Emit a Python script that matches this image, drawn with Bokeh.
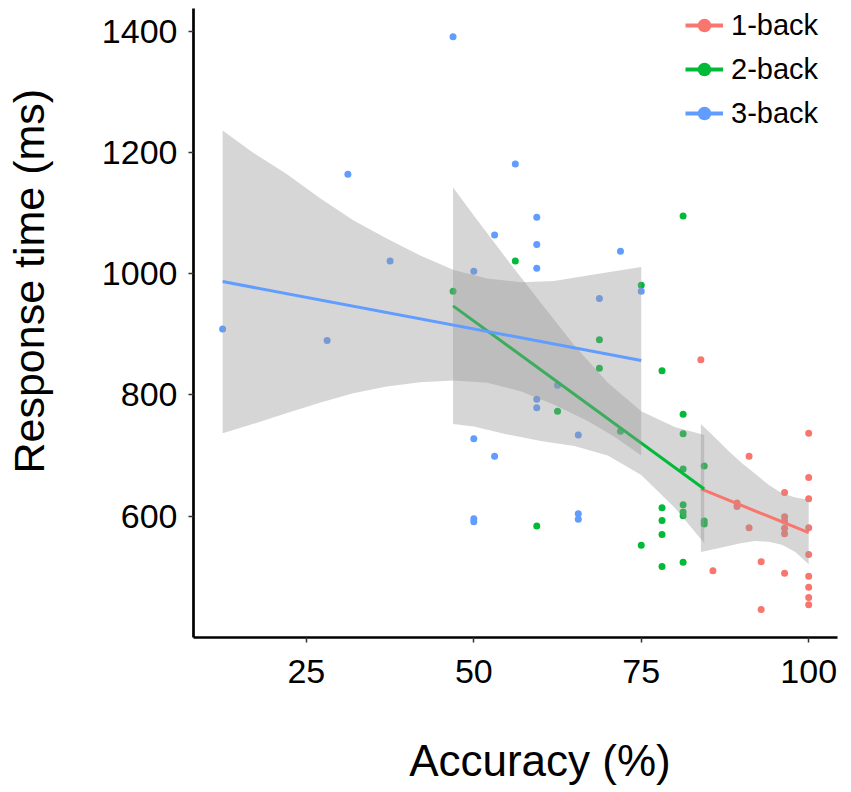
from bokeh.plotting import figure
from bokeh.models import Range1d, FixedTicker, Legend, LegendItem, ColumnDataSource
from bokeh.embed import file_html
from bokeh.resources import INLINE

# ---------------- data ----------------
groups = ["1-back", "2-back", "3-back"]
colors = ["#F8766D", "#00BA38", "#619CFF"]

x_1back = [83.9, 85.7, 89.3, 89.3, 91.1, 91.1, 92.9, 92.9,
           96.4, 96.4, 96.4, 96.4, 96.4, 96.4,
           100, 100, 100, 100, 100, 100, 100, 100, 100]
rt_1back = [858, 510, 622, 616, 699, 581, 525, 446,
            639, 599, 592, 580, 571, 506,
            737, 664, 629, 581, 537, 501, 483, 466, 454]

x_2back = [46.9, 56.2, 59.4, 62.5, 68.75, 68.75, 71.9, 75, 75,
           78.1, 78.1, 78.1, 78.1, 78.1,
           81.25, 81.25, 81.25, 81.25, 81.25, 81.25, 81.25, 81.25,
           84.4, 84.4, 84.4]
rt_2back = [971, 1021, 584, 773, 891, 844, 740, 981, 552,
            840, 614, 593, 570, 517,
            1095, 768, 736, 678, 619, 607, 601, 524,
            683, 592, 587]

x_3back = [12.5, 28.1, 31.2, 37.5, 46.9, 50, 50, 50, 50,
           53.1, 53.1, 56.2, 59.4, 59.4, 59.4, 59.4, 59.4,
           62.5, 65.6, 65.6, 65.6, 68.75, 71.9, 75]
rt_3back = [909, 890, 1164, 1021, 1391, 1004, 728, 596, 591,
            1064, 699, 1181, 1093, 1048, 1009, 793, 779,
            816, 734, 604, 595, 959, 1037, 971]

# fitted lines (end points) and confidence bands
fit_x_1back = [83.9, 100]
fit_y_1back = [645, 573]
band_x_1back = [83.9, 86, 88, 90, 92, 94, 96, 98, 100]
band_lo_1back = [541, 546, 551, 556, 559, 558, 553, 541, 521]
band_hi_1back = [752, 730, 708, 688, 670, 652, 638, 631, 627]

fit_x_2back = [46.9, 84.4]
fit_y_2back = [947, 645]
band_x_2back = [46.9, 50, 55, 60, 65, 70, 75, 80, 84.4]
band_lo_2back = [752, 748, 735, 724, 716, 700, 668, 614, 556]
band_hi_2back = [1142, 1096, 1023, 952, 882, 820, 773, 747, 734]

fit_x_3back = [12.5, 75]
fit_y_3back = [987, 857]
band_x_3back = [12.5, 17, 22, 27, 32, 37, 42, 47, 52, 57, 62, 67, 71, 75]
band_lo_3back = [737, 752, 770, 787, 803, 814, 821, 824, 820, 806, 784, 757, 731, 700]
band_hi_3back = [1236, 1200, 1165, 1125, 1088, 1058, 1030, 1006, 992, 986, 988, 997, 1004, 1011]

x_ticks = [25, 50, 75, 100]
y_ticks = [600, 800, 1000, 1200, 1400]
x_title = "Accuracy (%)"
y_title = "Response time (ms)"

FONT = "Liberation Sans"
NBSP = "\u00a0"

p = figure(width=843, height=792, output_backend="svg", toolbar_location=None,
           x_range=Range1d(8.15, 104.3), y_range=Range1d(400, 1437.4),
           min_border_left=193, min_border_right=6, min_border_top=8,
           min_border_bottom=155)
p.outline_line_color = None
p.grid.visible = False
p.background_fill_color = "white"

pts = [(x_1back, rt_1back), (x_2back, rt_2back), (x_3back, rt_3back)]
fits = [(fit_x_1back, fit_y_1back), (fit_x_2back, fit_y_2back), (fit_x_3back, fit_y_3back)]
bands = [(band_x_1back, band_lo_1back, band_hi_1back),
         (band_x_2back, band_lo_2back, band_hi_2back),
         (band_x_3back, band_lo_3back, band_hi_3back)]

for (xs, ys), c in zip(pts, colors):
    p.scatter(xs, ys, size=7, fill_color=c, line_color=None)

for (bx, lo, hi), (fx, fy), c in zip(bands, fits, colors):
    p.varea(x=bx, y1=lo, y2=hi, fill_color="#999999", fill_alpha=0.4)
    p.line(fx, fy, line_color=c, line_width=3)

# legend-only glyphs (no visible data)
items = []
for g, c in zip(groups, colors):
    src = ColumnDataSource(data=dict(x=[float("nan")], y=[float("nan")]))
    lr = p.line("x", "y", source=src, line_color=c, line_width=4)
    dr = p.scatter("x", "y", source=src, size=12, fill_color=c, line_color=None)
    items.append(LegendItem(label=g, renderers=[lr, dr]))

legend = Legend(items=items, location="top_right", margin=0, padding=5,
                glyph_width=38, glyph_height=34, label_height=34, label_width=106,
                label_standoff=8, spacing=10,
                label_text_font=FONT, label_text_font_size="29px",
                label_text_color="black",
                background_fill_alpha=0, border_line_color=None)
p.add_layout(legend, "center")

for ax in (p.xaxis[0], p.yaxis[0]):
    ax.axis_line_color = "black"
    ax.axis_line_width = 2.7
    ax.major_tick_line_color = "#333333"
    ax.major_tick_line_width = 1.5
    ax.major_tick_out = 5
    ax.major_tick_in = 0
    ax.minor_tick_line_color = None
    ax.major_label_text_font = FONT
    ax.major_label_text_font_size = "34px"
    ax.major_label_text_color = "black"
    ax.axis_label_text_font = FONT
    ax.axis_label_text_font_style = "normal"
    ax.axis_label_text_color = "black"

p.xaxis.ticker = FixedTicker(ticks=x_ticks)
p.yaxis.ticker = FixedTicker(ticks=y_ticks)
p.xaxis.major_label_standoff = 17
p.yaxis.major_label_standoff = 11

# axis titles (leading no-break spaces shift the centred title as in the reference)
p.xaxis.axis_label = NBSP * 4 + x_title
p.xaxis.axis_label_text_font_size = "44px"
p.xaxis.axis_label_standoff = 50
p.yaxis.axis_label = NBSP * 7 + y_title
p.yaxis.axis_label_text_font_size = "43px"
p.yaxis.axis_label_standoff = 46

open("out.html", "w").write(file_html(p, INLINE))
